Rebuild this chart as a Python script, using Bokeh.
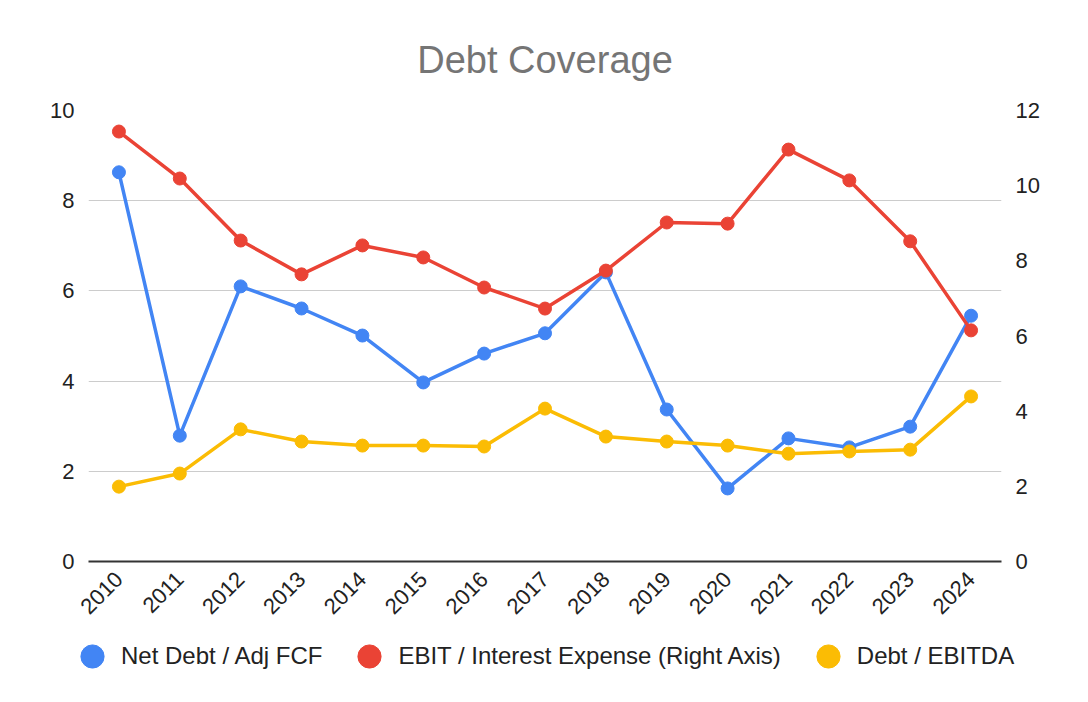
import math
from bokeh.plotting import figure
from bokeh.layouts import column, row
from bokeh.models import Range1d, LinearAxis, FixedTicker, Legend, LegendItem, FactorRange
from bokeh.embed import file_html
from bokeh.resources import INLINE

years = [str(y) for y in range(2010, 2025)]
net_debt_adj_fcf = [8.63, 2.79, 6.10, 5.61, 5.01, 3.97, 4.61, 5.06, 6.41, 3.37, 1.62, 2.73, 2.53, 2.99, 5.45]
ebit_interest = [11.44, 10.19, 8.54, 7.64, 8.41, 8.09, 7.29, 6.73, 7.74, 9.02, 8.99, 10.96, 10.14, 8.52, 6.15]
debt_ebitda = [1.66, 1.95, 2.93, 2.66, 2.57, 2.57, 2.55, 3.39, 2.77, 2.66, 2.57, 2.39, 2.44, 2.48, 3.66]
left_ticks = [0, 2, 4, 6, 8, 10]
right_ticks = [0, 2, 4, 6, 8, 10, 12]
series_names = ["Net Debt / Adj FCF", "EBIT / Interest Expense (Right Axis)", "Debt / EBITDA"]

BLUE = "#4285F4"
RED = "#EA4335"
YELLOW = "#FBBC04"
COLORS = [BLUE, RED, YELLOW]
FONT = "Liberation Sans"

p = figure(width=1072, height=626, x_range=FactorRange(*years), y_range=Range1d(0, 10),
           output_backend="svg", toolbar_location=None,
           min_border_left=88, min_border_right=71, min_border_top=110, min_border_bottom=65)
p.extra_y_ranges = {"right": Range1d(0, 12)}
p.outline_line_color = None
p.background_fill_color = "white"

p.title.text = "Debt Coverage"
p.title.align = "center"
p.title.text_font = FONT
p.title.text_font_size = "38px"
p.title.text_font_style = "normal"
p.title.text_color = "#757575"
p.title.standoff = 59

p.xgrid.visible = False
p.ygrid.grid_line_color = "#cccccc"
p.ygrid.grid_line_width = 1
p.ygrid.ticker = FixedTicker(ticks=left_ticks)

p.yaxis.ticker = FixedTicker(ticks=left_ticks)
right_axis = LinearAxis(y_range_name="right", ticker=FixedTicker(ticks=right_ticks))
p.add_layout(right_axis, "right")

for ax in p.yaxis:
    ax.axis_line_color = None
    ax.major_tick_line_color = None
    ax.minor_tick_line_color = None
    ax.major_label_text_font = FONT
    ax.major_label_text_font_size = "22px"
    ax.major_label_text_color = "#222222"
    ax.major_label_standoff = 8

xa = p.xaxis[0]
xa.axis_line_color = "#333333"
xa.axis_line_width = 2
xa.major_tick_line_color = None
xa.minor_tick_line_color = None
xa.major_label_orientation = math.pi / 4
xa.major_label_text_font = FONT
xa.major_label_text_font_size = "22px"
xa.major_label_text_color = "#222222"
xa.major_label_standoff = 8

all_series = [(net_debt_adj_fcf, "default"), (ebit_interest, "right"), (debt_ebitda, "default")]
for (vals, rng), col in zip(all_series, COLORS):
    p.line(years, vals, line_color=col, line_width=3.5, y_range_name=rng)
    p.scatter(years, vals, size=13, fill_color=col, line_color=col, y_range_name=rng)

# legend strip below the chart (series marks here lie outside its view; only the legend shows)
lg = figure(width=1072, height=60, x_range=FactorRange(*years), y_range=Range1d(100, 101),
            x_axis_type=None, y_axis_type=None, output_backend="svg", toolbar_location=None,
            min_border_left=0, min_border_right=0, min_border_top=0, min_border_bottom=0)
lg.outline_line_color = None
lg.xgrid.visible = False
lg.ygrid.visible = False
items = []
for name, (vals, rng), col in zip(series_names, all_series, COLORS):
    r = lg.scatter(years, vals, size=13, fill_color=col, line_color=col)
    items.append(LegendItem(label=name, renderers=[r]))

legend = Legend(items=items, orientation="horizontal", location=(63, 1))
legend.glyph_width = 58
legend.glyph_height = 58
legend.label_standoff = 0
legend.spacing = 18
legend.padding = 0
legend.margin = 0
legend.border_line_color = None
legend.background_fill_alpha = 0
legend.label_text_font = FONT
legend.label_text_font_size = "24px"
legend.label_text_color = "#222222"
lg.add_layout(legend, "center")

layout = column(p, row(lg), spacing=0)
open("out.html", "w").write(file_html(layout, INLINE))
